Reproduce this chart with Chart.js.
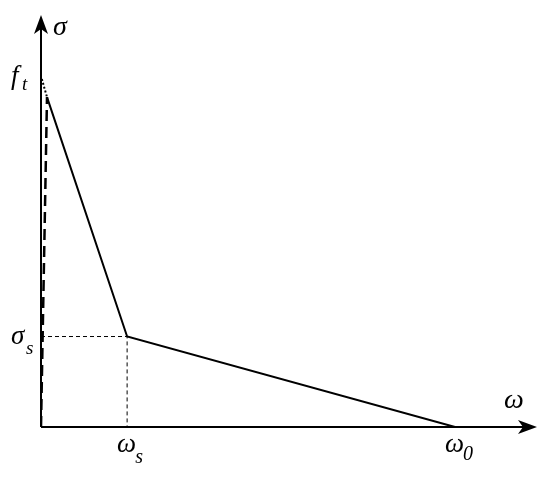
<!DOCTYPE html>
<html>
<head>
<meta charset="utf-8">
<script src="https://cdn.jsdelivr.net/npm/chart.js@4"></script>
<style>
  html, body { margin: 0; padding: 0; background: #fff; }
  #wrap { width: 550px; height: 478px; }
</style>
</head>
<body>
<div id="wrap"><canvas id="c"></canvas></div>
<script>
// Softening law values (w0 = 1, ft = 1)
const softX = [0.0145, 0.208, 1.0];
const softY = [0.948, 0.26, 0];
const tipX = [0.002, 0.0145];
const tipY = [1.0, 0.948];
const elasticX = [0, 0.0145];
const elasticY = [0, 0.948];
const guideX = [0, 0.208, 0.208];
const guideY = [0.26, 0.26, 0];
const xTicks = [{ v: 0.208, base: 'ω', sub: 's' }, { v: 1.0, base: 'ω', sub: '0' }];
const yTicks = [{ v: 1.0, base: 'f', sub: 't' }, { v: 0.26, base: 'σ', sub: 's' }];

const pts = (xs, ys) => xs.map((x, i) => ({ x: x, y: ys[i] }));
const SERIF = '"Liberation Serif", "DejaVu Serif", serif';

// axes with arrows + italic labels
const axesPlugin = {
    id: 'axes',
    afterDraw(chart) {
        const ctx = chart.ctx;
        const xs = chart.scales.x, ys = chart.scales.y;
        const ox = xs.getPixelForValue(0), oy = ys.getPixelForValue(0);
        const right = chart.chartArea.right, top = chart.chartArea.top;
        ctx.save();
        ctx.strokeStyle = '#000';
        ctx.fillStyle = '#000';
        ctx.lineWidth = 2;
        ctx.beginPath();
        ctx.moveTo(ox, oy); ctx.lineTo(right - 4, oy);
        ctx.moveTo(ox, oy); ctx.lineTo(ox, top + 4);
        ctx.stroke();
        // arrow heads
        ctx.beginPath();
        ctx.moveTo(right, oy); ctx.lineTo(right - 19, oy - 7); ctx.lineTo(right - 14, oy); ctx.lineTo(right - 19, oy + 7);
        ctx.closePath(); ctx.fill();
        ctx.beginPath();
        ctx.moveTo(ox, top); ctx.lineTo(ox - 7, top + 19); ctx.lineTo(ox, top + 14); ctx.lineTo(ox + 7, top + 19);
        ctx.closePath(); ctx.fill();

        ctx.textBaseline = 'alphabetic';
        ctx.textAlign = 'left';
        ctx.font = 'italic 28px ' + SERIF;
        ctx.fillText('σ', ox + 12, top + 20);
        ctx.fillText('ω', right - 33, oy - 19);

        xTicks.forEach(t => {
            const px = xs.getPixelForValue(t.v);
            ctx.font = 'italic 27px ' + SERIF;
            const w = ctx.measureText(t.base).width;
            const bx = px - 10;
            ctx.fillText(t.base, bx, oy + 25);
            ctx.font = 'italic 20px ' + SERIF;
            ctx.fillText(t.sub, bx + w - 1, oy + (t.sub === '0' ? 33 : 36));
        });
        yTicks.forEach(t => {
            const py = ys.getPixelForValue(t.v);
            ctx.font = 'italic 27px ' + SERIF;
            ctx.fillText(t.base, 11, py + (t.sub === 't' ? 5 : 7));
            ctx.font = 'italic 19px ' + SERIF;
            ctx.fillText(t.sub, t.sub === 't' ? 22 : 26, py + (t.sub === 't' ? 11 : 17));
        });
        ctx.restore();
    }
};

new Chart(document.getElementById('c'), {
    type: 'scatter',
    data: {
        datasets: [
            { data: pts(guideX, guideY), showLine: true, borderColor: '#000', borderWidth: 1, borderDash: [4, 3], pointRadius: 0 },
            { data: pts(elasticX, elasticY), showLine: true, borderColor: '#000', borderWidth: 2.5, borderDash: [11, 6], pointRadius: 0 },
            { data: pts(tipX, tipY), showLine: true, borderColor: '#000', borderWidth: 2, borderDash: [2, 2], pointRadius: 0 },
            { data: pts(softX, softY), showLine: true, borderColor: '#000', borderWidth: 2, pointRadius: 0 }
        ]
    },
    options: {
        responsive: true,
        maintainAspectRatio: false,
        animation: false,
        layout: { padding: { left: 41, right: 13, top: 15, bottom: 51 } },
        scales: {
            x: { type: 'linear', min: 0, max: 1.198, display: false },
            y: { type: 'linear', min: 0, max: 1.184, display: false }
        },
        plugins: { legend: { display: false }, tooltip: { enabled: false } }
    },
    plugins: [axesPlugin]
});
</script>
</body>
</html>
